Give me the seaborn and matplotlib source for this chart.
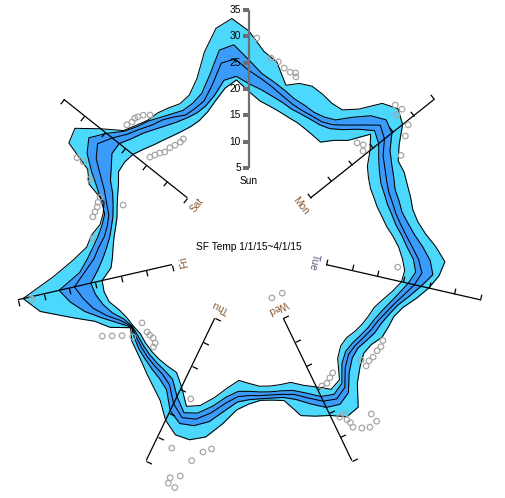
import numpy as np
import matplotlib
matplotlib.use("Agg")
import matplotlib.pyplot as plt
import seaborn as sns
from matplotlib.markers import MarkerStyle
from matplotlib.path import Path
from matplotlib.transforms import Affine2D

days = ["Sun", "Mon", "Tue", "Wed", "Thu", "Fri", "Sat"]
title = "SF Temp 1/1/15~4/1/15"
axis_ticks = [5, 10, 15, 20, 25, 30, 35]

# hour of week (UTC), every 2 hours, Sun 00:00 at the top
hours = np.arange(0, 168, 2)

low = [19.5, 17.8, 17.0, 16.3, 15.7, 15.3, 14.8, 14.4, 14.1, 15.9, 17.6, 21.5,
       19.4, 17.2, 16.2, 15.6, 15.5, 15.5, 15.9, 16.4, 17.4, 18.4, 19.2, 19.9,
       19.7, 18.5, 17.3, 16.4, 16.2, 16.0, 15.7, 15.3, 15.6, 17.0, 20.5, 21.2,
       19.5, 18.2, 16.9, 16.8, 16.7, 16.5, 15.9, 15.4, 17.0, 19.3, 21.5, 22.5,
       19.5, 17.5, 17.4, 17.3, 17.1, 16.8, 16.4, 16.6, 16.8, 17.4, 18.5, 18.8,
       18.6, 16.5, 16.0, 15.8, 15.7, 15.6, 15.7, 16.2, 16.8, 17.5, 18.6, 18.6,
       18.2, 17.3, 16.5, 16.0, 15.6, 15.4, 15.4, 15.8, 16.8, 18.5, 20.5, 21.8]
q1 = [21.0, 20.0, 19.0, 18.2, 17.4, 17.1, 16.9, 16.8, 17.2, 18.5, 20.5, 22.5,
      21.5, 19.8, 18.6, 17.8, 17.6, 17.5, 17.8, 18.2, 19.1, 20.0, 21.3, 22.0,
      21.0, 19.8, 18.8, 18.0, 17.5, 17.3, 17.0, 16.8, 17.0, 18.3, 21.3, 22.3,
      21.5, 19.8, 18.5, 18.0, 17.8, 17.6, 17.4, 17.5, 18.8, 21.0, 23.0, 23.8,
      21.5, 19.0, 18.4, 18.1, 17.8, 17.4, 17.0, 16.8, 17.4, 18.8, 19.8, 20.5,
      20.8, 19.0, 17.8, 17.0, 16.5, 16.4, 16.5, 17.0, 17.8, 19.2, 20.2, 21.5,
      21.5, 20.3, 19.5, 18.6, 17.9, 17.4, 17.2, 17.3, 18.0, 19.5, 22.0, 22.5]
median = [23.5, 22.0, 20.6, 19.3, 18.3, 17.8, 17.6, 17.5, 18.1, 19.6, 21.6, 24.0,
          22.9, 20.8, 19.8, 19.0, 18.5, 18.5, 18.6, 19.1, 19.9, 21.0, 22.3, 23.2,
          22.2, 20.8, 19.6, 18.8, 18.2, 18.0, 17.7, 17.5, 17.8, 19.3, 22.3, 23.3,
          22.5, 20.8, 19.3, 18.7, 18.4, 18.3, 18.2, 18.5, 20.0, 22.3, 24.2, 24.8,
          23.0, 20.2, 19.2, 18.8, 18.4, 17.9, 17.4, 16.9, 18.0, 20.0, 21.8, 23.0,
          24.0, 21.5, 19.5, 18.5, 17.5, 17.2, 17.3, 18.3, 19.5, 21.3, 23.5, 24.8,
          23.2, 21.5, 20.5, 19.6, 19.2, 18.5, 17.8, 18.2, 19.0, 21.5, 25.3, 25.8]
q3 = [25.5, 23.0, 21.7, 20.5, 19.4, 18.9, 18.4, 18.5, 19.2, 21.5, 24.0, 25.5,
      24.7, 22.4, 21.3, 20.5, 19.8, 19.8, 19.8, 20.5, 21.5, 23.0, 24.5, 25.3,
      23.5, 21.8, 20.3, 19.5, 19.0, 18.9, 18.5, 18.2, 18.8, 20.5, 23.5, 24.5,
      23.8, 22.0, 20.3, 19.3, 19.0, 18.9, 19.0, 19.5, 21.5, 24.0, 25.5, 26.0,
      24.5, 21.3, 20.2, 19.6, 19.0, 18.5, 17.8, 17.0, 18.8, 21.0, 23.5, 25.5,
      27.0, 22.5, 20.8, 19.6, 18.7, 18.2, 18.1, 19.3, 21.0, 23.2, 25.5, 26.8,
      24.6, 22.3, 21.2, 20.6, 19.8, 19.2, 18.8, 19.3, 20.5, 23.5, 27.8, 28.5]
high = [31.0, 27.3, 25.5, 21.5, 22.5, 22.8, 22.2, 21.5, 21.5, 23.5, 27.2, 28.6,
        27.3, 24.5, 22.7, 22.7, 22.3, 22.1, 21.9, 22.4, 23.6, 25.5, 27.3, 26.5,
        25.0, 23.2, 21.4, 20.5, 20.5, 20.5, 19.7, 19.7, 21.0, 23.0, 26.8, 27.2,
        25.5, 24.5, 23.5, 19.9, 19.4, 19.2, 19.8, 21.0, 24.0, 27.0, 28.3, 28.3,
        26.5, 23.7, 22.2, 21.0, 19.9, 19.1, 18.5, 17.2, 20.5, 22.5, 26.5, 31.5,
        34.0, 27.5, 23.5, 20.8, 20.0, 18.6, 18.4, 18.8, 22.6, 24.0, 29.5, 30.0,
        26.0, 22.5, 21.5, 20.8, 20.8, 20.5, 20.2, 21.0, 23.5, 28.0, 32.0, 33.5]

out_hours = [1.0, 3.1, 4.2, 5.2, 6.2, 7.0, 7.2,
             21.4, 22.4, 22.5, 24.5, 25.5, 27.5, 21.5, 22.5, 23.3, 45.6,
             58.3, 59.3, 60.2, 61.4, 62.3, 63.2, 63.1, 68.3, 69.2, 70.1, 71.1,
             70.9, 70.1, 70.2, 70.0, 70.0, 69.1, 68.2, 67.1, 67.1, 67.3, 72.7,
             93.8, 93.8, 89.9, 88.9, 91.0, 91.8, 92.8, 92.8, 92.0,
             109.5, 107.4, 106.6, 105.7, 104.7, 104.4, 108.4, 109.7, 110.6, 111.4,
             138.8, 138.7, 136.8, 134.6, 133.7, 132.9, 132.0, 131.1, 134.6, 127.5, 119.7,
             145.7, 146.7, 147.7, 148.6, 150.0, 151.2, 152.5, 153.4,
             147.0, 147.9, 148.6, 149.1, 149.9, 150.8]
out_temps = [29.7, 26.1, 25.6, 24.6, 24.1, 24.2, 23.5,
             28.7, 29.1, 27.7, 28.1, 26.4, 23.7, 18.5, 19.1, 18.3, 18.5,
             21.0, 21.4, 21.3, 21.5, 21.4, 21.7, 20.2, 18.7, 19.2, 19.8, 19.8,
             26.6, 26.7, 27.7, 28.5, 29.5, 30.5, 31.2, 29.3, 31.0, 0.8, 0.6,
             20.9, 30.9, 29.9, 29.0, 32.0, 35.4, 36.3, 37.4, 37.8,
             14.9, 15.2, 15.2, 15.1, 15.5, 16.3, 17.9, 19.4, 21.0, 22.6,
             26.8, 25.4, 22.8, 19.8, 19.9, 19.8, 20.0, 20.2, 15.2, 19.7, 32.4,
             15.4, 15.0, 14.6, 14.1, 14.1, 13.9, 13.8, 14.0,
             22.8, 22.5, 22.7, 22.5, 22.1, 21.3]

LIGHT = "#4cd8fc"
DARK = "#3a9bfb"

sns.set_style("white")
plt.rcParams["font.family"] = ["Liberation Sans", "DejaVu Sans"]


def closed(a):
    return np.append(np.asarray(a, dtype=float), a[0])


theta = np.deg2rad(np.append(hours, 168) / 168 * 360)

W, H = 506, 498
r_min, r_max = -10, 40
px_per_unit = 5.267
rad_px = (r_max - r_min) * px_per_unit
cx, cy = 249, H - 247

fig = plt.figure(figsize=(W / 100, H / 100), dpi=100)
ax = fig.add_axes([(cx - rad_px) / W, (cy - rad_px) / H, 2 * rad_px / W, 2 * rad_px / H],
                  projection="polar")
ax.set_theta_zero_location("N")
ax.set_theta_direction(-1)
ax.set_ylim(r_min, r_max)
ax.set_axis_off()

ax.fill_between(theta, closed(low), closed(high), color=LIGHT, lw=0, zorder=1)
ax.fill_between(theta, closed(q1), closed(q3), color=DARK, lw=0, zorder=2)
for series in [low, q1, median, q3, high]:
    sns.lineplot(x=theta, y=closed(series), ax=ax, color="black", lw=0.75,
                 sort=False, estimator=None, zorder=3)

sns.scatterplot(x=np.deg2rad(np.array(out_hours) / 168 * 360), y=out_temps, ax=ax,
                s=16, facecolor="none", edgecolor="#a6a6a6", linewidth=0.9,
                zorder=5, clip_on=False)
pts = ax.collections[-1]
pts.set_facecolor("none")
pts.set_edgecolor("#a6a6a6")

tick_path = Path([(0, 0), (-1, 0)], [Path.MOVETO, Path.LINETO])
for k, day in enumerate(days):
    deg = 360 * k / 7
    t = np.deg2rad(deg)
    col = "#6f6f6f" if k == 0 else "black"
    lw = 1.6 if k == 0 else 0.9
    ax.plot([t, t], [axis_ticks[0], axis_ticks[-1]], color=col, lw=lw, zorder=4,
            solid_capstyle="butt")
    mk = MarkerStyle(tick_path, transform=Affine2D().rotate_deg(-deg))
    ax.plot([t] * len(axis_ticks), axis_ticks, ls="none", marker=mk, ms=8.6,
            mec=col, mew=lw, zorder=4)
    lab_col = "black" if k == 0 else ("#5b4a80" if day == "Tue" else "#8a5a30")
    ax.text(t, 2.6, day, rotation=-deg, rotation_mode="anchor", ha="center",
            va="center", fontsize=7.3, color=lab_col, zorder=6)

for v in axis_ticks:
    ax.annotate(str(v), xy=(0, v), xytext=(-5.8, 0), textcoords="offset points",
                ha="right", va="center", fontsize=7.3, color="black", zorder=6)

ax.text(0, r_min, title, ha="center", va="center", fontsize=7.3, color="black")

fig.savefig("out.png", dpi=100)
plt.close(fig)
